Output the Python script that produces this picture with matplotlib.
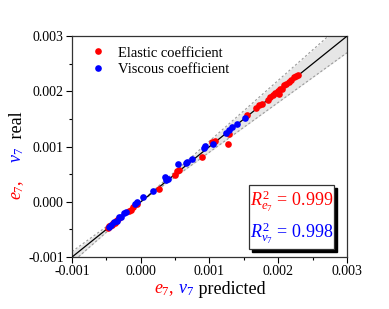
import numpy as np
import matplotlib
matplotlib.use("Agg")
import matplotlib.pyplot as plt
from matplotlib.patches import Rectangle

plt.rcParams['font.family'] = ['Liberation Serif', 'DejaVu Serif']
plt.rcParams['mathtext.fontset'] = 'custom'
plt.rcParams['mathtext.rm'] = 'Liberation Serif'
plt.rcParams['mathtext.it'] = 'Liberation Serif:italic'

# elastic coefficient e7: predicted vs real
e_pred = [-0.00048, -0.00046, -0.00044, -0.00042, -0.00040, -0.00038, -0.00036,
          -0.00034, -0.00031, -0.00017, -0.00014, -0.00011, -0.00006, 0.00026,
          0.00050, 0.00053, 0.00056, 0.00089, 0.00104, 0.00108, 0.00128, 0.00127,
          0.00155, 0.00168, 0.00172, 0.00176, 0.00185, 0.00188, 0.00192, 0.00196,
          0.00199, 0.00201, 0.00203, 0.00206, 0.00209, 0.00212, 0.00216, 0.00219,
          0.00223, 0.00226, 0.00229]
e_real = [-0.00047, -0.00044, -0.00043, -0.00041, -0.00039, -0.00038, -0.00035,
          -0.00032, -0.00030, -0.00016, -0.00015, -0.00010, -0.00003, 0.00024,
          0.00049, 0.00055, 0.00058, 0.00082, 0.00108, 0.00111, 0.00122, 0.00105,
          0.00158, 0.00170, 0.00176, 0.00177, 0.00185, 0.00190, 0.00194, 0.00197,
          0.00200, 0.00195, 0.00205, 0.00205, 0.00212, 0.00213, 0.00217, 0.00221,
          0.00226, 0.00228, 0.00230]

# viscous coefficient v7: predicted vs real
v_pred = [-0.00046, -0.00043, -0.00039, -0.00035, -0.00032, -0.00029, -0.00025,
          -0.00022, -0.00008, -0.00005, 0.00003, 0.00018, 0.00035, 0.00037,
          0.00040, 0.00054, 0.00066, 0.00068, 0.00075, 0.00092, 0.00094, 0.00105,
          0.00124, 0.00128, 0.00133, 0.00140, 0.00152]
v_real = [-0.00045, -0.00041, -0.00037, -0.00034, -0.00028, -0.00027, -0.00020,
          -0.00019, -0.00004, -0.00001, 0.00008, 0.00019, 0.00045, 0.00040,
          0.00042, 0.00068, 0.00070, 0.00073, 0.00077, 0.00098, 0.00101, 0.00104,
          0.00125, 0.00130, 0.00136, 0.00141, 0.00152]

r2_e = 0.999
r2_v = 0.998
lims = [-0.001, 0.003]
ticks = [-0.001, 0.0, 0.001, 0.002, 0.003]
band = 0.1

fig = plt.figure(figsize=(3.89, 3.09), dpi=100)
ax = fig.add_axes([0.185, 0.168, 0.707, 0.715])

xx = np.array(lims)
ax.fill_between(xx, xx * (1 + band), xx * (1 - band), color='#e6e6e6', lw=0, zorder=1)
ax.plot(xx, xx * (1 + band), ls=(0, (2, 2)), color='#999999', lw=0.8, zorder=2)
ax.plot(xx, xx * (1 - band), ls=(0, (2, 2)), color='#999999', lw=0.8, zorder=2)
ax.plot(xx, xx, color='black', lw=0.9, zorder=3)

ax.plot(e_pred, e_real, 'o', color='red', ms=4.8, mew=0, zorder=4, label='Elastic coefficient')
ax.plot(v_pred, v_real, 'o', color='blue', ms=4.8, mew=0, zorder=5, label='Viscous coefficient')

ax.set_xlim(lims)
ax.set_ylim(lims)
ax.set_xticks(ticks)
ax.set_yticks(ticks)
ax.set_xticklabels(['%.3f' % t for t in ticks])
ax.set_yticklabels(['%.3f' % t for t in ticks])
ax.set_xticks(np.arange(-0.0005, 0.003, 0.001), minor=True)
ax.set_yticks(np.arange(-0.0005, 0.003, 0.001), minor=True)
ax.tick_params(which='major', direction='out', length=4, width=0.8, labelsize=10, pad=2)
ax.tick_params(which='minor', direction='out', length=2.5, width=0.8)
for sp in ax.spines.values():
    sp.set_linewidth(0.9)
    sp.set_color('#333333')

ax.legend(loc='upper left', bbox_to_anchor=(0.035, 1.0), frameon=False, fontsize=10.5,
          handletextpad=1.0, borderaxespad=0.3, labelspacing=0.25, handlelength=0.8)

# R^2 box with shadow
bx, by, bw, bh = 0.644, 0.036, 0.309, 0.29
ax.add_patch(Rectangle((bx + 0.012, by - 0.014), bw, bh, transform=ax.transAxes,
                       facecolor='black', edgecolor='black', zorder=6))
ax.add_patch(Rectangle((bx, by), bw, bh, transform=ax.transAxes,
                       facecolor='white', edgecolor='#333333', lw=0.9, zorder=7))
ax.text(bx + bw / 2, 0.255, r'$R^2_{e_7}\,=\,%.3f$' % r2_e, transform=ax.transAxes,
        color='red', fontsize=13, ha='center', va='center', zorder=8)
ax.text(bx + bw / 2, 0.11, r'$R^2_{v_7}\,=\,%.3f$' % r2_v, transform=ax.transAxes,
        color='blue', fontsize=13, ha='center', va='center', zorder=8)

# multicolour axis labels
lab_fs = 13
pieces_x = [(r'$e_7$,', 'red', 0), (r' $v_7$', 'blue', 0), (' predicted', 'black', 0)]
pieces_y = [(r'$e_7$,', 'red', 0), (r' $v_7$', 'blue', 9), (' real', 'black', 3)]

prev = None
for s, c, gap in pieces_x:
    if prev is None:
        prev = ax.annotate(s, xy=(0.395, 0.052), xycoords='figure fraction', color=c,
                           fontsize=lab_fs, va='baseline', ha='left', annotation_clip=False)
    else:
        prev = ax.annotate(s, xy=(1, 0), xycoords=prev, color=c, fontsize=lab_fs,
                           va='bottom', ha='left', annotation_clip=False)
prev = None
for s, c, gap in pieces_y:
    if prev is None:
        prev = ax.annotate(s, xy=(0.054, 0.353), xycoords='figure fraction', color=c,
                           fontsize=lab_fs, va='baseline', ha='left', rotation=90,
                           rotation_mode='anchor', annotation_clip=False)
    else:
        prev = ax.annotate(s, xy=(0, 1), xycoords=prev, xytext=(0, gap),
                           textcoords='offset points', color=c, fontsize=lab_fs,
                           va='bottom', ha='left', rotation=90, annotation_clip=False)

fig.savefig('out.png', dpi=100)
